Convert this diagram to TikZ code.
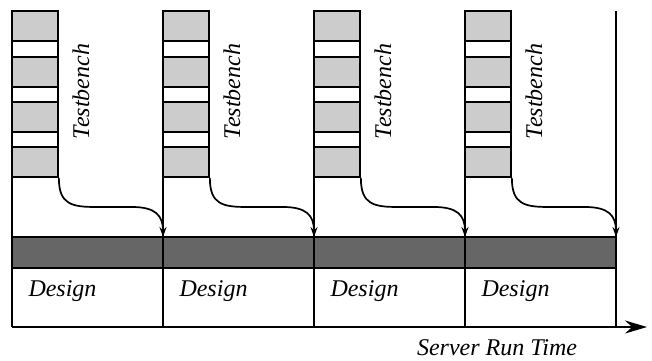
\documentclass[tikz,border=0pt]{standalone}
\usepackage{fontspec}
\setmainfont{Liberation Serif}[ItalicFont={Liberation Serif Italic}]
\usetikzlibrary{arrows.meta}
\definecolor{stimgray}{gray}{0.8}
\definecolor{bargray}{gray}{0.4}
\begin{document}
\begin{tikzpicture}[x=0.5pt,y=-0.5pt,line width=0.85pt,
  every node/.style={font=\fontsize{12}{14}\selectfont\itshape},
  stim/.style={draw,fill=stimgray,minimum width=23pt,minimum height=15pt,inner sep=0pt},
  feed/.style={-{Stealth[length=5pt,width=3.5pt]}}]
  \useasboundingbox (0,0) rectangle (652,360);
  \node[draw,fill=bargray,minimum width=302pt,minimum height=15.5pt,inner sep=0pt] (bar) at (314,252.5) {};
  \foreach \i [evaluate=\i as \x using 12+151*\i] in {0,...,3} {
    \draw (\x,11) -- (\x,327);
    \draw (\x+46,11) -- (\x+46,177);
    \foreach \y [count=\j] in {26,72,117,162}
      \node[stim] (box\i\j) at (\x+23,\y) {};
    \node[rotate=90,anchor=base] (tb\i) at (\x+77,91.5) {Testbench};
    \node[anchor=base] (des\i) at (\x+50.5,296) {Design};
    \coordinate (e\i) at (\x+151,237);
    % testbench feeds the next design run
    \draw[feed] (box\i4.south east) .. controls +(0,27) and (\x+60,207) .. (\x+85,207)
      -- (\x+120,207) .. controls (\x+143,207) and (\x+151,215) .. (e\i);
  }
  \draw (616,11) -- (616,327);
  \coordinate (t0) at (12,327);
  \coordinate (t1) at (647,327);
  \draw[-{Stealth[length=11pt,width=6.5pt]}] (t0) -- (t1);
  \node[anchor=base] (srt) at (497,355) {Server Run Time};
\end{tikzpicture}
\end{document}
